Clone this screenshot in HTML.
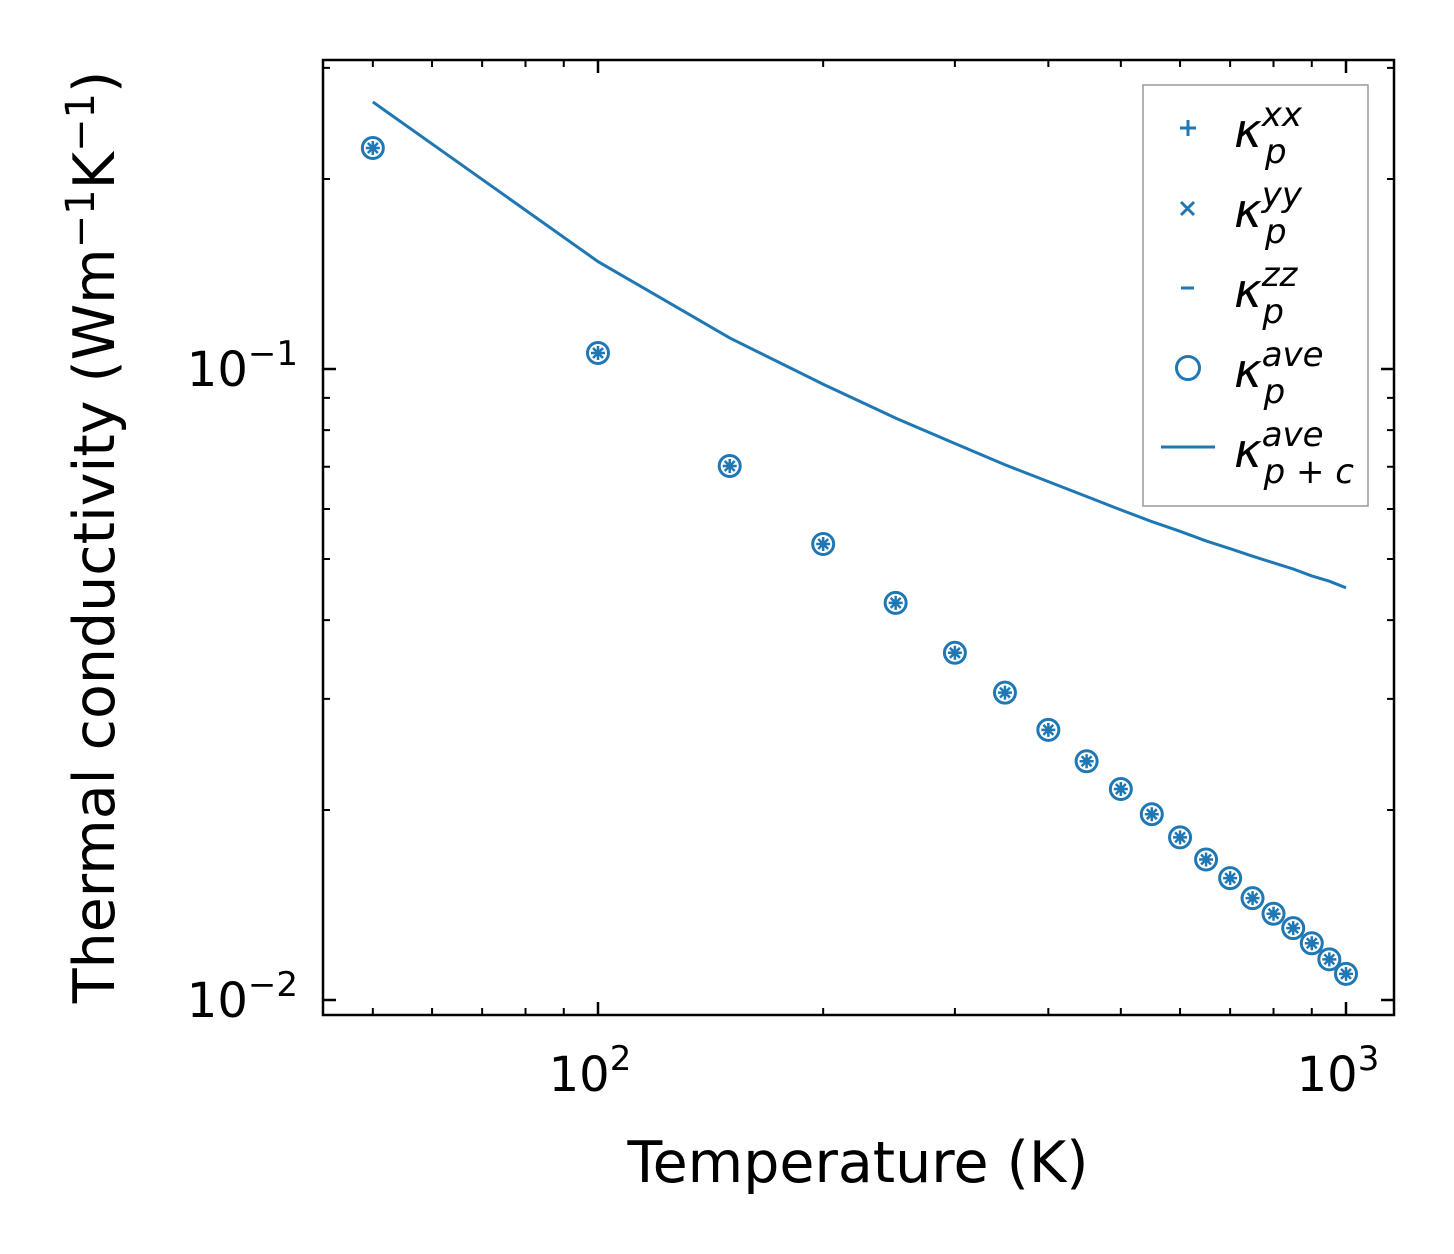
<!DOCTYPE html>
<html><head><meta charset="utf-8"><style>
body{margin:0;background:#fff;}
svg{display:block;font-family:"DejaVu Sans","Liberation Sans",sans-serif;}
</style></head><body>
<svg id="chart" width="1454" height="1254" viewBox="0 0 1454 1254">
<rect x="0" y="0" width="1454" height="1254" fill="#fff"/>
<g id="ticks"></g>
<g id="marks"></g>
<rect x="323" y="60" width="1071" height="955" fill="none" stroke="#000" stroke-width="2.5"/>
<text x="858" y="1182" font-size="57" text-anchor="middle">Temperature (K)</text>
<text transform="translate(114,537) rotate(-90)" font-size="57" text-anchor="middle">Thermal conductivity (Wm<tspan dy="-20" font-size="40">−1</tspan><tspan dy="20">K</tspan><tspan dy="-20" font-size="40">−1</tspan><tspan dy="20">)</tspan></text>
<g>
<rect x="1143" y="85" width="225" height="421" fill="#fff" stroke="#999" stroke-width="1.5"/>
<g stroke="#1f77b4" stroke-width="3" fill="none">
<path d="M1180 128h16M1188 120v16"/>
<path d="M1181 202l13 13M1194 202l-13 13"/>
<path d="M1181 288h13"/>
<circle cx="1188" cy="368" r="11.5" stroke-width="3"/>
<path d="M1161 447h54" stroke-width="3"/>
</g>
<g font-size="47" font-style="italic">
<text x="1234" y="147">κ<tspan font-size="34" dy="-21">xx</tspan><tspan font-size="34" dx="-37" dy="37">p</tspan></text>
<text x="1234" y="227">κ<tspan font-size="34" dy="-21">yy</tspan><tspan font-size="34" dx="-37" dy="37">p</tspan></text>
<text x="1234" y="307">κ<tspan font-size="34" dy="-21">zz</tspan><tspan font-size="34" dx="-35" dy="37">p</tspan></text>
<text x="1234" y="387">κ<tspan font-size="34" dy="-21">ave</tspan><tspan font-size="34" dx="-60" dy="37">p</tspan></text>
<text x="1234" y="467">κ<tspan font-size="34" dy="-21">ave</tspan><tspan font-size="34" dx="-60" dy="37">p + c</tspan></text>
</g>
</g>
</svg>
<script>
const temps=[50,100,150,200,250,300,350,400,450,500,550,600,650,700,750,800,850,900,950,1000];
const kappaP=[0.224,0.106,0.0702,0.0528,0.0426,0.0355,0.0307,0.0268,0.0239,0.0216,0.0197,0.0181,0.0167,0.0156,0.0145,0.0137,0.0130,0.0123,0.0116,0.0110];
const kappaPC=[0.265,0.148,0.112,0.0946,0.0836,0.0762,0.0705,0.0663,0.0628,0.0598,0.0573,0.0553,0.0534,0.0519,0.0505,0.0493,0.0482,0.0470,0.0461,0.0450];
const xMajor=[100,1000];
const xMajorLabels=["2","3"];
const yMajor=[0.1,0.01];
const yMajorLabels=["−1","−2"];
const NS="http://www.w3.org/2000/svg";
function xs(t){return 598+748*Math.log10(t/100);}
function ys(v){return 369-631*Math.log10(v/0.1);}
function mk(tag,attrs,parent){const e=document.createElementNS(NS,tag);for(const k in attrs)e.setAttribute(k,attrs[k]);parent.appendChild(e);return e;}
const tg=document.getElementById('ticks');
const L=323,R=1394,T=60,B=1015;
function xt(t,len){const x=xs(t);if(x<L||x>R)return;
 const a=mk('path',{d:`M${x} ${B}v${-len}M${x} ${T}v${len}`,stroke:'#000','stroke-width':len>8?2.5:2},tg);
 
 }
function yt(v,len){const y=ys(v);if(y<T||y>B)return;
 const a=mk('path',{d:`M${L} ${y}h${len}M${R} ${y}h${-len}`,stroke:'#000','stroke-width':len>8?2.5:2},tg);
 
 }
for(let d of [10,100,1000])for(let m=2;m<10;m++)xt(d*m,7);
for(let d of [0.001,0.01,0.1])for(let m=2;m<10;m++)yt(d*m,7);
xMajor.forEach((t,i)=>{xt(t,13);
 const tx=mk('text',{x:xs(t)-8,y:1091,'font-size':48,'text-anchor':'middle'},tg);
 
 
 tx.innerHTML=`10<tspan dy="-21" font-size="34">${xMajorLabels[i]}</tspan>`;});
yMajor.forEach((v,i)=>{yt(v,13);
 const tx=mk('text',{x:298,y:ys(v)+17,'font-size':48,'text-anchor':'end'},tg);
 
 
 tx.innerHTML=`10<tspan dy="-21" font-size="34">${yMajorLabels[i]}</tspan>`;});
const mg=document.getElementById('marks');
const line=mk('polyline',{points:temps.map((t,i)=>xs(t)+','+ys(kappaPC[i])).join(' '),fill:'none',stroke:'#1f77b4','stroke-width':3},mg);


temps.forEach((t,i)=>{const x=xs(t),y=ys(kappaP[i]);
 const g=mk('g',{stroke:'#1f77b4',fill:'none'},mg);
 
 
 mk('circle',{cx:x,cy:y,r:10.5,'stroke-width':3},g);
 mk('path',{d:`M${x-7} ${y}h14M${x} ${y-7}v14M${x-5} ${y-5}l10 10M${x+5} ${y-5}l-10 10`,'stroke-width':2.5},g);
});
</script>
</body></html>
